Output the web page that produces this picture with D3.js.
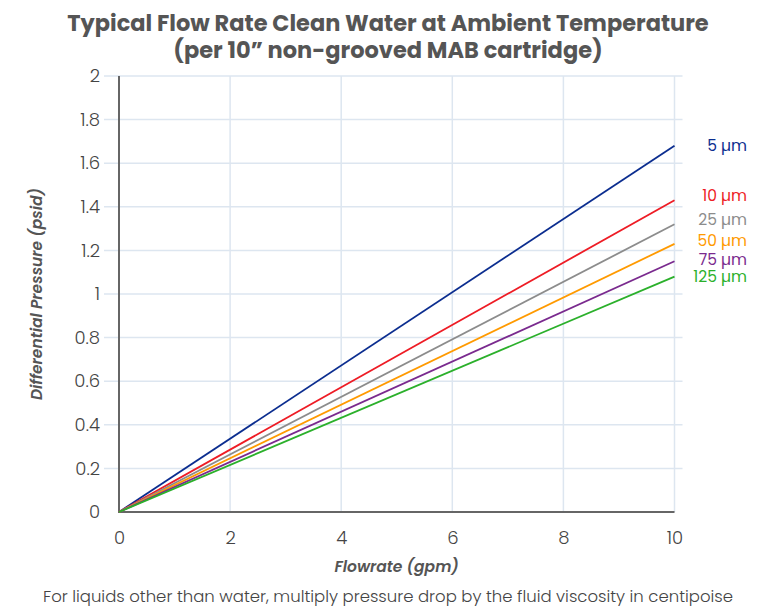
<!DOCTYPE html>
<html>
<head>
<meta charset="utf-8">
<script src="https://cdn.jsdelivr.net/npm/d3@7"></script>
<style>
  body { margin: 0; background: #fff; }
  text { font-family: "Poppins", "Inter", "Open Sans", sans-serif; }
</style>
</head>
<body>
<div id="chart"></div>
<script>
const width = 776;
const height = 609;

// data: pressure at 0 and 10 gpm (straight lines)
const flowrates = [0, 10];
const grades = ["5 µm", "10 µm", "25 µm", "50 µm", "75 µm", "125 µm"];
const pressureAt10 = [1.68, 1.43, 1.32, 1.23, 1.15, 1.08];
const colors = ["#0b2d8f", "#ee1c25", "#8c8c8c", "#ff9a00", "#7a2a8e", "#2bb02b"];
const xTicks = [0, 2, 4, 6, 8, 10];
const yTicks = [0, 0.2, 0.4, 0.6, 0.8, 1, 1.2, 1.4, 1.6, 1.8, 2];

// small vertical nudges (px) so the end labels don't collide
const labelNudge = [0, -5, -5, -3, -2, 0];

const margin = { top: 76, right: 102, bottom: 97, left: 119 };

const svg = d3.select("#chart")
  .append("svg")
  .attr("width", width)
  .attr("height", height);

const x = d3.scaleLinear()
  .domain([0, 10])
  .range([margin.left, width - margin.right + 0.5]);

const y = d3.scaleLinear()
  .domain([0, 2])
  .range([height - margin.bottom, margin.top]);

// grid
svg.append("g")
  .selectAll("line")
  .data(yTicks.slice(1))
  .join("line")
  .attr("x1", margin.left - 15)
  .attr("x2", x(10) + 8)
  .attr("y1", d => y(d))
  .attr("y2", d => y(d))
  .attr("stroke", "#dde6f0")
  .attr("stroke-width", 1.5);

svg.append("g")
  .selectAll("line")
  .data(xTicks.slice(1))
  .join("line")
  .attr("x1", d => x(d))
  .attr("x2", d => x(d))
  .attr("y1", y(2))
  .attr("y2", y(0))
  .attr("stroke", "#dde6f0")
  .attr("stroke-width", 1.5);

// axes
const xAxis = svg.append("g")
  .attr("transform", `translate(0,${y(0)})`)
  .call(d3.axisBottom(x).tickValues(xTicks).tickSize(0).tickPadding(19));

const yAxis = svg.append("g")
  .attr("transform", `translate(${margin.left - 15},0)`)
  .call(d3.axisLeft(y).tickValues(yTicks).tickSize(0).tickPadding(4)
    .tickFormat(d3.format("~g")));

[xAxis, yAxis].forEach(a => {
  a.select(".domain").remove();
  a.selectAll("text")
    .attr("fill", "#444")
    .style("font-size", "18px")
    .style("font-weight", 300);
});

svg.append("line")
  .attr("x1", margin.left).attr("x2", margin.left)
  .attr("y1", y(2)).attr("y2", y(0) + 1)
  .attr("stroke", "#666").attr("stroke-width", 2);

svg.append("line")
  .attr("x1", margin.left - 1).attr("x2", x(10))
  .attr("y1", y(0)).attr("y2", y(0))
  .attr("stroke", "#666").attr("stroke-width", 2);

// series
const line = d3.line()
  .x(d => x(d[0]))
  .y(d => y(d[1]));

grades.forEach((g, i) => {
  const pts = flowrates.map(f => [f, pressureAt10[i] * f / 10]);
  svg.append("path")
    .datum(pts)
    .attr("fill", "none")
    .attr("stroke", colors[i])
    .attr("stroke-width", 1.8)
    .attr("d", line);

  svg.append("text")
    .attr("x", 747)
    .attr("y", y(pressureAt10[i]) + labelNudge[i])
    .attr("dy", "0.35em")
    .attr("text-anchor", "end")
    .attr("fill", colors[i])
    .style("font-size", "15.5px")
    .text(g);
});

// titles
svg.append("text")
  .attr("x", width / 2)
  .attr("y", 31)
  .attr("text-anchor", "middle")
  .attr("fill", "#555")
  .style("font-size", "22.5px")
  .style("font-weight", 700)
  .text("Typical Flow Rate Clean Water at Ambient Temperature");

svg.append("text")
  .attr("x", width / 2)
  .attr("y", 58)
  .attr("text-anchor", "middle")
  .attr("fill", "#555")
  .style("font-size", "22.5px")
  .style("font-weight", 700)
  .text("(per 10” non-grooved MAB cartridge)");

svg.append("text")
  .attr("x", (x(0) + x(10)) / 2)
  .attr("y", 572)
  .attr("text-anchor", "middle")
  .attr("fill", "#555")
  .style("font-size", "15.5px")
  .style("font-weight", 600)
  .style("font-style", "italic")
  .text("Flowrate (gpm)");

svg.append("text")
  .attr("transform", `translate(42,${(y(0) + y(2)) / 2}) rotate(-90)`)
  .attr("text-anchor", "middle")
  .attr("fill", "#555")
  .style("font-size", "15.5px")
  .style("font-weight", 600)
  .style("font-style", "italic")
  .text("Differential Pressure (psid)");

svg.append("text")
  .attr("x", width / 2)
  .attr("y", 602)
  .attr("text-anchor", "middle")
  .attr("fill", "#444")
  .style("font-size", "16.5px")
  .style("font-weight", 300)
  .text("For liquids other than water, multiply pressure drop by the fluid viscosity in centipoise");
</script>
</body>
</html>
